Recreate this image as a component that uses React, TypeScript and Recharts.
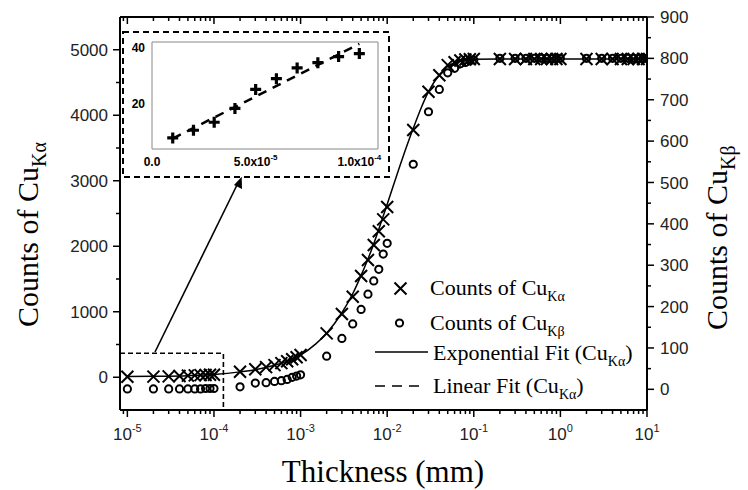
import React from "react"
import { ComposedChart, Scatter, Line, XAxis, YAxis, ReferenceArea } from "recharts"

// thickness (mm) of every measured sample
const thickness = [
  1e-5, 2e-5, 3e-5, 4e-5, 5e-5, 6e-5, 7e-5, 8e-5, 9e-5, 1e-4,
  2e-4, 3e-4, 4e-4, 5e-4, 6e-4, 7e-4, 8e-4, 9e-4, 1e-3,
  2e-3, 3e-3, 4e-3, 5e-3, 6e-3, 7e-3, 8e-3, 9e-3, 1e-2,
  2e-2, 3e-2, 4e-2, 5e-2, 6e-2, 7e-2, 8e-2, 9e-2, 1e-1,
  0.2, 0.3, 0.4, 0.5, 0.6, 0.7, 0.8, 0.9, 1,
  2, 3, 4, 5, 6, 7, 8, 9, 10,
]

// Cu K-alpha counts (left axis)
const countsKa = [
  7, 10, 13, 18, 25, 29, 33, 35, 37, 38,
  85, 121, 155, 185, 215, 245, 275, 305, 340,
  670, 966, 1230, 1546, 1790, 2020, 2230, 2410, 2600,
  3775, 4360, 4610, 4765, 4810, 4835, 4850, 4855, 4860,
  4860, 4860, 4860, 4860, 4860, 4860, 4860, 4860, 4860,
  4860, 4860, 4860, 4860, 4860, 4860, 4860, 4860, 4860,
]

// Cu K-beta counts (right axis)
const countsKb = [
  1, 1, 1, 1, 1, 1, 1, 2, 2, 2,
  6, 15, 16, 19, 21, 24, 29, 32, 35,
  80, 123, 158, 193, 230, 262, 290, 327, 353,
  544, 671, 725, 765, 776, 787, 790, 794, 796,
  800, 800, 800, 800, 800, 800, 800, 800, 800,
  800, 800, 800, 800, 800, 800, 800, 800, 800,
]

// exponential fit of K-alpha
const expFitX = [
  1e-5, 2e-5, 5e-5, 1e-4, 2e-4, 3e-4, 5e-4, 7e-4, 1e-3, 1.5e-3, 2e-3, 3e-3, 4e-3,
  5e-3, 6e-3, 7e-3, 8e-3, 1e-2, 1.5e-2, 2e-2, 2.5e-2, 3e-2, 4e-2, 5e-2, 6e-2,
  7e-2, 8e-2, 1e-1, 0.2, 1, 10,
]
const expFitY = [
  10, 14, 24, 42, 82, 116, 182, 246, 340, 510, 672, 985, 1275,
  1555, 1805, 2040, 2260, 2640, 3340, 3800, 4130, 4360, 4615, 4745, 4800,
  4830, 4845, 4855, 4860, 4860, 4860,
]

// inset: the first ten samples and their linear fit
const insetX = [1e-5, 2e-5, 3e-5, 4e-5, 5e-5, 6e-5, 7e-5, 8e-5, 9e-5, 1e-4]
const insetKa = [7.4, 10.2, 13.1, 18.1, 25, 28.9, 32.8, 34.7, 36.9, 38]
const linFitX = [1e-5, 1e-4]
const linFitY = [7.2, 41.5]

const xMajorTicks = [1e-5, 1e-4, 1e-3, 1e-2, 1e-1, 1, 10]
const xMinorMult = [2, 3, 4, 5, 6, 7, 8, 9]
const leftTicks = [0, 1000, 2000, 3000, 4000, 5000]
const leftMinor = [500, 1500, 2500, 3500, 4500]
const rightTicks = [0, 100, 200, 300, 400, 500, 600, 700, 800, 900]
const rightMinor = [50, 150, 250, 350, 450, 550, 650, 750, 850]
const insetXTicks = [0, 5e-5, 1e-4]
const insetXLabels = [["0.0", ""], ["5.0x10", "-5"], ["1.0x10", "-4"]]
const insetYTicks = [20, 40]

const X_DOMAIN = [Math.pow(10, -5.085), 10]
const xTicks = [9e-6, ...xMajorTicks]
xMajorTicks.slice(0, -1).forEach((d) => xMinorMult.forEach((m) => xTicks.push(m * d)))
xTicks.sort((a, b) => a - b)

const kaData = thickness.map((x, i) => ({ x, y: countsKa[i] }))
const kbData = thickness.map((x, i) => ({ x, y: countsKb[i] }))
const fitData = expFitX.map((x, i) => ({ x, y: expFitY[i] }))
const insetData = insetX.map((x, i) => ({ x, y: insetKa[i] }))
const linData = linFitX.map((x, i) => ({ x, y: linFitY[i] }))

const SANS = "'Liberation Sans', Arial, sans-serif"
const SERIF = "'Liberation Serif', 'Times New Roman', serif"

const isMajorX = (v: number) => Math.abs(Math.log10(v) - Math.round(Math.log10(v))) < 1e-6

const BottomTick = (props: any) => {
  const { x, y, payload } = props
  const v = payload.value
  const major = isMajorX(v)
  return (
    <g>
      <line x1={x} x2={x} y1={y} y2={y + (major ? 7 : 4)} stroke="#000" strokeWidth={1.5} />
      {major && (
        <text x={x} y={y + 30} textAnchor="middle" fontFamily={SANS} fontSize={17} fill="#222">
          10<tspan dy={-8} fontSize={11}>{Math.round(Math.log10(v))}</tspan>
        </text>
      )}
    </g>
  )
}

const TopTick = (props: any) => {
  const { x, y, payload } = props
  const major = isMajorX(payload.value)
  return <line x1={x} x2={x} y1={y} y2={y + (major ? 7 : 4)} stroke="#000" strokeWidth={1.5} />
}

const LeftTick = (props: any) => {
  const { x, y, payload } = props
  const major = leftTicks.includes(payload.value)
  return (
    <g>
      <line x1={x - (major ? 7 : 4)} x2={x} y1={y} y2={y} stroke="#000" strokeWidth={1.5} />
      {major && (
        <text x={x - 12} y={y} dy="0.36em" textAnchor="end" fontFamily={SANS} fontSize={17} fill="#222">
          {payload.value}
        </text>
      )}
    </g>
  )
}

const RightTick = (props: any) => {
  const { x, y, payload } = props
  const major = rightTicks.includes(payload.value)
  return (
    <g>
      <line x1={x} x2={x + (major ? 7 : 4)} y1={y} y2={y} stroke="#000" strokeWidth={1.5} />
      {major && (
        <text x={x + 13} y={y} dy="0.36em" textAnchor="start" fontFamily={SANS} fontSize={17} fill="#222">
          {payload.value}
        </text>
      )}
    </g>
  )
}

const InsetXTick = (props: any) => {
  const { x, y, payload, index } = props
  const [base, sup] = insetXLabels[index] || [String(payload.value), ""]
  return (
    <text x={x} y={y + 17} textAnchor="middle" fontFamily={SANS} fontWeight="bold" fontSize={12} fill="#000">
      {base}
      {sup && <tspan dy={-6} fontSize={8}>{sup}</tspan>}
    </text>
  )
}

const InsetYTick = (props: any) => {
  const { x, y, payload } = props
  return (
    <text x={x - 7} y={y} dy="0.36em" textAnchor="end" fontFamily={SANS} fontWeight="bold" fontSize={12} fill="#000">
      {payload.value}
    </text>
  )
}

const CrossMark = (props: any) => {
  const { cx, cy } = props
  const s = 6
  return (
    <path d={`M${cx - s},${cy - s}L${cx + s},${cy + s}M${cx - s},${cy + s}L${cx + s},${cy - s}`} stroke="#000" strokeWidth={2} fill="none" />
  )
}

const CircleMark = (props: any) => {
  const { cx, cy } = props
  return <circle cx={cx} cy={cy} r={3.6} stroke="#000" strokeWidth={2} fill="none" />
}

const PlusMark = (props: any) => {
  const { cx, cy } = props
  const s = 5.5
  return (
    <path d={`M${cx - s},${cy}L${cx + s},${cy}M${cx},${cy - s}L${cx},${cy + s}`} stroke="#000" strokeWidth={3.2} fill="none" />
  )
}

const Sub = ({ children, dy = 6 }: any) => (
  <tspan dy={dy} fontSize={14}>{children}</tspan>
)

export default function App() {
  return (
    <div style={{ position: "absolute", left: 0, top: 0, width: 748, height: 490, background: "#fff" }}>
      <ComposedChart width={748} height={490} margin={{ top: 0, right: 0, bottom: 0, left: 0 }}>
        <XAxis
          xAxisId="b"
          dataKey="x"
          type="number"
          scale="log"
          domain={X_DOMAIN}
          allowDataOverflow
          ticks={xTicks}
          interval={0}
          height={80}
          tickSize={0}
          tickMargin={0}
          tick={<BottomTick />}
          tickLine={false}
          axisLine={{ stroke: "#000", strokeWidth: 2 }}
        />
        <XAxis
          xAxisId="t"
          orientation="top"
          dataKey="x"
          type="number"
          scale="log"
          domain={X_DOMAIN}
          allowDataOverflow
          ticks={xTicks}
          interval={0}
          height={17}
          tickSize={0}
          tickMargin={0}
          tick={<TopTick />}
          tickLine={false}
          axisLine={{ stroke: "#000", strokeWidth: 2 }}
        />
        <YAxis
          yAxisId="l"
          type="number"
          domain={[-500, 5500]}
          allowDataOverflow
          ticks={[...leftTicks, ...leftMinor].sort((a, b) => a - b)}
          interval={0}
          width={120}
          tickSize={0}
          tickMargin={0}
          tick={<LeftTick />}
          tickLine={false}
          axisLine={{ stroke: "#000", strokeWidth: 2 }}
        />
        <YAxis
          yAxisId="r"
          orientation="right"
          type="number"
          domain={[-50, 900]}
          allowDataOverflow
          ticks={[...rightTicks, ...rightMinor].sort((a, b) => a - b)}
          interval={0}
          width={101}
          tickSize={0}
          tickMargin={0}
          tick={<RightTick />}
          tickLine={false}
          axisLine={{ stroke: "#000", strokeWidth: 2 }}
        />
        <ReferenceArea
          xAxisId="b"
          yAxisId="l"
          x1={X_DOMAIN[0]}
          x2={1.285e-4}
          y1={-500}
          y2={366}
          fill="none"
          stroke="#000"
          strokeWidth={1.6}
          strokeDasharray="5 3"
        />
        <Line
          xAxisId="b"
          yAxisId="l"
          data={fitData}
          dataKey="y"
          type="monotone"
          stroke="#000"
          strokeWidth={1.5}
          dot={false}
          isAnimationActive={false}
        />
        <Scatter xAxisId="b" yAxisId="l" data={kaData} dataKey="y" shape={<CrossMark />} isAnimationActive={false} />
        <Scatter xAxisId="b" yAxisId="r" data={kbData} dataKey="y" shape={<CircleMark />} isAnimationActive={false} />
      </ComposedChart>

      <div style={{ position: "absolute", left: 123, top: 32 }}>
        <ComposedChart width={266} height={145} margin={{ top: 10, right: 11, bottom: 0, left: 0 }}>
          <XAxis
            dataKey="x"
            type="number"
            domain={[0, 1.09e-4]}
            allowDataOverflow
            ticks={insetXTicks}
            interval={0}
            height={28}
            tickSize={0}
            tickMargin={0}
            tick={<InsetXTick />}
            tickLine={false}
            axisLine={false}
          />
          <YAxis
            type="number"
            domain={[3.4, 42.2]}
            allowDataOverflow
            ticks={insetYTicks}
            interval={0}
            width={29}
            tickSize={0}
            tickMargin={0}
            tick={<InsetYTick />}
            tickLine={false}
            axisLine={false}
          />
          <ReferenceArea x1={0} x2={1.09e-4} y1={3.4} y2={42.2} fill="#fff" stroke="#888" strokeWidth={1} />
          <Line
            data={linData}
            dataKey="y"
            type="linear"
            stroke="#000"
            strokeWidth={2.5}
            strokeDasharray="9 7"
            dot={false}
            isAnimationActive={false}
          />
          <Scatter data={insetData} dataKey="y" shape={<PlusMark />} isAnimationActive={false} />
        </ComposedChart>
      </div>

      <svg width={748} height={490} style={{ position: "absolute", left: 0, top: 0, pointerEvents: "none" }}>
        <rect x={123} y={32} width={266} height={145} fill="none" stroke="#000" strokeWidth={2} strokeDasharray="6 4" />
        <line x1={155} y1={352} x2={238} y2={183} stroke="#000" strokeWidth={1.6} />
        <path d="M241.7,176.7 L242,189 L234,185 Z" fill="#000" />

        <text x={383} y={482} textAnchor="middle" fontFamily={SERIF} fontSize={31} fill="#000">
          Thickness (mm)
        </text>
        <text transform="translate(38,327) rotate(-90)" fontFamily={SERIF} fontSize={30} fill="#000">
          Counts of Cu<tspan dy={8} fontSize={20}>Kα</tspan>
        </text>
        <text transform="translate(727,330) rotate(-90)" fontFamily={SERIF} fontSize={30} fill="#000">
          Counts of Cu<tspan dy={8} fontSize={20}>Kβ</tspan>
        </text>

        <CrossMark cx={400.5} cy={288.5} />
        <text x={430} y={295} fontFamily={SERIF} fontSize={22} fill="#000">
          Counts of Cu<Sub>Kα</Sub>
        </text>
        <CircleMark cx={399.5} cy={323} />
        <text x={430} y={330} fontFamily={SERIF} fontSize={22} fill="#000">
          Counts of Cu<Sub>Kβ</Sub>
        </text>
        <line x1={375} x2={428} y1={352} y2={352} stroke="#000" strokeWidth={1.5} />
        <text x={433} y={360} fontFamily={SERIF} fontSize={22} fill="#000">
          Exponential Fit (Cu<Sub>Kα</Sub><tspan dy={-6}>)</tspan>
        </text>
        <line x1={375} x2={422} y1={386} y2={386} stroke="#000" strokeWidth={1.5} strokeDasharray="10 7" />
        <text x={433} y={393} fontFamily={SERIF} fontSize={22} fill="#000">
          Linear Fit (Cu<Sub>Kα</Sub><tspan dy={-6}>)</tspan>
        </text>
      </svg>
    </div>
  )
}
